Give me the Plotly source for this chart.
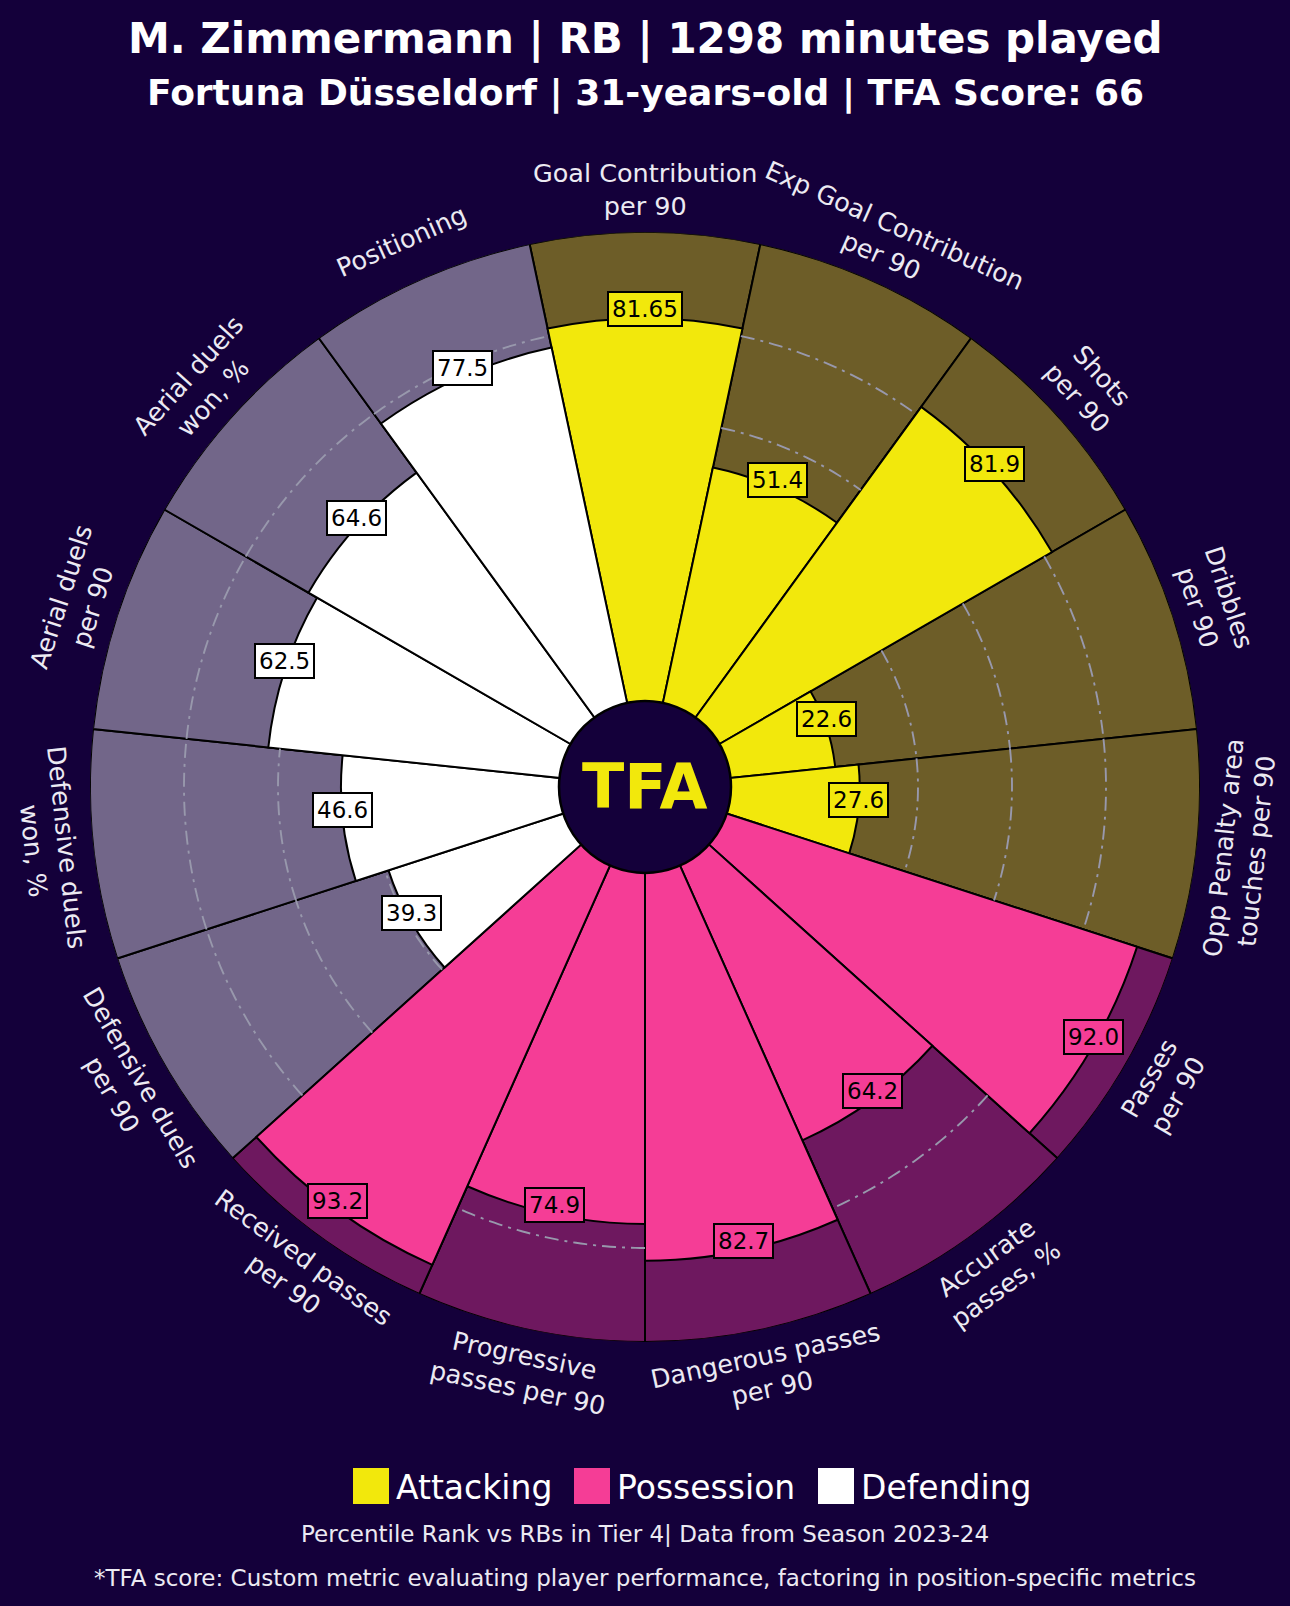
import numpy as np
import plotly.graph_objects as go

# ---------------- data ----------------
categories = [
    "Goal Contribution<br>per 90",
    "Exp Goal Contribution<br>per 90",
    "Shots<br>per 90",
    "Dribbles<br>per 90",
    "Opp Penalty area<br>touches per 90",
    "Passes<br>per 90",
    "Accurate<br>passes, %",
    "Dangerous passes<br>per 90",
    "Progressive<br>passes per 90",
    "Received passes<br>per 90",
    "Defensive duels<br>per 90",
    "Defensive duels<br>won, %",
    "Aerial duels<br>per 90",
    "Aerial duels<br>won, %",
    "Positioning",
]
values = [81.65, 51.4, 81.9, 22.6, 27.6, 92.0, 64.2, 82.7, 74.9, 93.2, 39.3, 46.6, 62.5, 64.6, 77.5]
groups = ["Attacking", "Attacking", "Attacking", "Attacking", "Attacking",
          "Possession", "Possession", "Possession", "Possession", "Possession",
          "Defending", "Defending", "Defending", "Defending", "Defending"]
group_names = ["Attacking", "Possession", "Defending"]
grid_values = [20, 40, 60, 80]

title_text = "M. Zimmermann | RB | 1298 minutes played"
subtitle_text = "Fortuna Düsseldorf | 31-years-old | TFA Score: 66"
footer1 = "Percentile Rank vs RBs in Tier 4| Data from Season 2023-24"
footer2 = "*TFA score: Custom metric evaluating player performance, factoring in position-specific metrics"
logo_text = "TFA"

# ---------------- style ----------------
W, H = 1290, 1606
BG = (20, 0, 58)
BG_HEX = "#14003A"
group_rgb = {"Attacking": (242, 232, 12), "Possession": (245, 61, 150), "Defending": (255, 255, 255)}
FONT = "DejaVu Sans"
LABEL_COLOR = "#ECEAF2"


def rgb(c):
    return "rgb(%d,%d,%d)" % c


def blend(c, a):
    return tuple(int(round(a * c[k] + (1 - a) * BG[k])) for k in range(3))


CX, CY = 645, 787      # polar centre (px)
R_OUT = 555            # outer radius (px)
R_HOLE = 85            # inner hole radius (px)

n = len(categories)
step = 360.0 / n
thetas = [i * step for i in range(n)]
bar_colors = [rgb(group_rgb[g]) for g in groups]
bg_colors = [rgb(blend(group_rgb[g], 0.4)) for g in groups]


def to_paper(px, py):
    return px / W, 1 - py / H


def rad_px(v):
    return R_HOLE + (R_OUT - R_HOLE) * v / 100.0


fig = go.Figure()

# background (full) bars
fig.add_trace(go.Barpolar(
    r=[100] * n, theta=thetas, width=[step] * n,
    marker=dict(color=bg_colors, line=dict(color="black", width=2)),
    hoverinfo="skip", showlegend=False,
))

# value bars
fig.add_trace(go.Barpolar(
    r=values, theta=thetas, width=[step] * n,
    marker=dict(color=bar_colors, line=dict(color="black", width=2)),
    hoverinfo="skip", showlegend=False,
))

# dash-dot grid circles, visible only over the background part
for g in grid_values:
    th, rr = [], []
    for i, v in enumerate(values):
        if v < g:
            seg = np.linspace(thetas[i] - step / 2, thetas[i] + step / 2, 40)
            th += list(seg) + [None]
            rr += [g] * len(seg) + [None]
    if th:
        fig.add_trace(go.Scatterpolar(
            r=rr, theta=th, mode="lines",
            line=dict(color="rgb(152,152,172)", width=1.9, dash="14px,6px,3px,6px"),
            hoverinfo="skip", showlegend=False, connectgaps=False,
        ))

x0, y1 = to_paper(CX - R_OUT, CY - R_OUT)
x1, y0 = to_paper(CX + R_OUT, CY + R_OUT)

fig.update_layout(
    width=W, height=H,
    paper_bgcolor=BG_HEX, plot_bgcolor=BG_HEX,
    margin=dict(l=0, r=0, t=0, b=0),
    showlegend=False,
    polar=dict(
        domain=dict(x=[x0, x1], y=[y0, y1]),
        bgcolor=BG_HEX,
        hole=R_HOLE / R_OUT,
        bargap=0,
        barmode="overlay",
        radialaxis=dict(range=[0, 100], visible=False, showgrid=False),
        angularaxis=dict(rotation=90, direction="clockwise", showgrid=False,
                         showline=False, showticklabels=False, ticks=""),
    ),
)

annotations = []
shapes = []

# category labels (rotated tangentially)
R_LABEL = 598
for i, lab in enumerate(categories):
    a = thetas[i]
    ar = np.radians(a)
    px = CX + R_LABEL * np.sin(ar)
    py = CY - R_LABEL * np.cos(ar)
    rot = a if a <= 90 else (a - 180 if a < 270 else a - 360)
    xp, yp = to_paper(px, py)
    annotations.append(dict(
        x=xp, y=yp, xref="paper", yref="paper", text=lab, showarrow=False,
        textangle=rot, xanchor="center", yanchor="middle", align="center",
        font=dict(family=FONT, size=25.5, color=LABEL_COLOR),
    ))

# value labels
for i, v in enumerate(values):
    ar = np.radians(thetas[i])
    rv = rad_px(v)
    px = CX + rv * np.sin(ar)
    py = CY - rv * np.cos(ar) - 9
    xp, yp = to_paper(px, py)
    annotations.append(dict(
        x=xp, y=yp, xref="paper", yref="paper", text=str(v), showarrow=False,
        xanchor="center", yanchor="middle",
        font=dict(family=FONT, size=23, color="black"),
        bgcolor=bar_colors[i], bordercolor="black", borderwidth=2, borderpad=3,
    ))

# centre logo circle
R_C = 86
cx0, cy1 = to_paper(CX - R_C, CY - R_C)
cx1, cy0 = to_paper(CX + R_C, CY + R_C)
shapes.append(dict(type="circle", xref="paper", yref="paper", x0=cx0, x1=cx1, y0=cy0, y1=cy1,
                   fillcolor=BG_HEX, line=dict(color="black", width=2.5), layer="above"))
lx, ly = to_paper(CX, CY)
annotations.append(dict(x=lx, y=ly, xref="paper", yref="paper", text="<b>%s</b>" % logo_text,
                        showarrow=False, xanchor="center", yanchor="middle",
                        font=dict(family=FONT, size=62, color=rgb(group_rgb["Attacking"]))))

# titles
tx, ty = to_paper(W / 2, 39)
annotations.append(dict(x=tx, y=ty, xref="paper", yref="paper", text="<b>%s</b>" % title_text,
                        showarrow=False, xanchor="center", yanchor="middle",
                        font=dict(family=FONT, size=42, color="white")))
tx, ty = to_paper(W / 2, 93)
annotations.append(dict(x=tx, y=ty, xref="paper", yref="paper", text="<b>%s</b>" % subtitle_text,
                        showarrow=False, xanchor="center", yanchor="middle",
                        font=dict(family=FONT, size=36, color="white")))

# legend (squares + text)
legend_sq_x = [353, 574, 818]
LEG_Y = 1486
SQ = 36
for k, gname in enumerate(group_names):
    sx = legend_sq_x[k]
    a0, b1 = to_paper(sx, LEG_Y - SQ / 2)
    a1, b0 = to_paper(sx + SQ, LEG_Y + SQ / 2)
    shapes.append(dict(type="rect", xref="paper", yref="paper", x0=a0, x1=a1, y0=b0, y1=b1,
                       fillcolor=rgb(group_rgb[gname]), line=dict(width=0), layer="above"))
    tx, ty = to_paper(sx + SQ + 5, LEG_Y + 1)
    annotations.append(dict(x=tx, y=ty, xref="paper", yref="paper", text=gname, showarrow=False,
                            xanchor="left", yanchor="middle",
                            font=dict(family=FONT, size=33, color="white")))

# footers
tx, ty = to_paper(W / 2, 1534)
annotations.append(dict(x=tx, y=ty, xref="paper", yref="paper", text=footer1, showarrow=False,
                        xanchor="center", yanchor="middle",
                        font=dict(family=FONT, size=23, color=LABEL_COLOR)))
tx, ty = to_paper(W / 2, 1578)
annotations.append(dict(x=tx, y=ty, xref="paper", yref="paper", text=footer2, showarrow=False,
                        xanchor="center", yanchor="middle",
                        font=dict(family=FONT, size=23, color=LABEL_COLOR)))

fig.update_layout(annotations=annotations, shapes=shapes)
fig.write_html(
    "out.html",
    config={"displayModeBar": False},
    post_script="document.body.style.margin='0';document.body.style.background='%s';" % BG_HEX,
)
